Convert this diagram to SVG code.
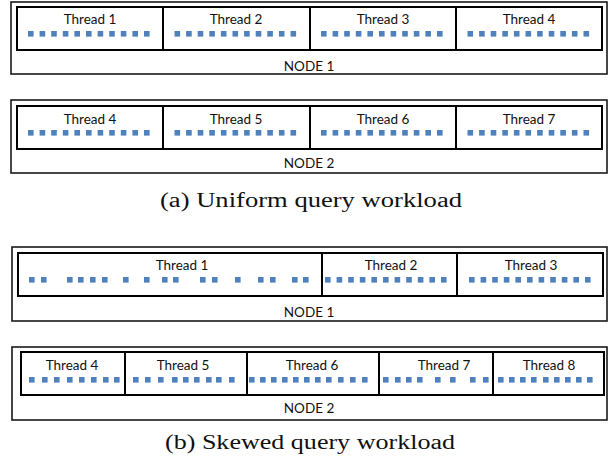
<svg xmlns="http://www.w3.org/2000/svg" width="608" height="459" viewBox="0 0 608 459">
<style>
.outer{fill:none;stroke:#1a1a1a;stroke-width:1.6}
.inner{fill:none;stroke:#000;stroke-width:2}
.div{stroke:#000;stroke-width:2}
.lbl{font-family:Lato,"Liberation Sans",sans-serif;font-size:13.5px;fill:#111;text-anchor:middle}
.cap{font-family:"Liberation Serif",serif;font-size:20px;fill:#111;text-anchor:middle}
.d{fill:#4f81bd}
</style>
<defs>
<rect id="q" width="5.6" height="5.6" class="d"/>
<g id="row11">
<use href="#q" x="0"/><use href="#q" x="11.6"/><use href="#q" x="23.2"/><use href="#q" x="34.8"/><use href="#q" x="46.4"/><use href="#q" x="58"/><use href="#q" x="69.6"/><use href="#q" x="81.2"/><use href="#q" x="92.8"/><use href="#q" x="104.4"/><use href="#q" x="116"/>
</g>
</defs>

<!-- (a) NODE 1 -->
<g id="a-node1">
<rect class="outer" x="11" y="2" width="596" height="72"/>
<rect class="inner" x="17" y="7" width="585" height="43"/>
<line class="div" x1="163" y1="7" x2="163" y2="50"/>
<line class="div" x1="310" y1="7" x2="310" y2="50"/>
<line class="div" x1="456" y1="7" x2="456" y2="50"/>
<text class="lbl" x="90" y="24">Thread 1</text>
<text class="lbl" x="236" y="24">Thread 2</text>
<text class="lbl" x="383" y="24">Thread 3</text>
<text class="lbl" x="529" y="24">Thread 4</text>
<use href="#row11" x="28" y="31"/>
<use href="#row11" x="174.5" y="31"/>
<use href="#row11" x="321" y="31"/>
<use href="#row11" x="467.5" y="31"/>
<text class="lbl" x="309" y="71">NODE 1</text>
</g>

<!-- (a) NODE 2 -->
<g id="a-node2">
<rect class="outer" x="11" y="100" width="596" height="73"/>
<rect class="inner" x="17" y="106" width="585" height="43"/>
<line class="div" x1="163" y1="106" x2="163" y2="149"/>
<line class="div" x1="310" y1="106" x2="310" y2="149"/>
<line class="div" x1="456" y1="106" x2="456" y2="149"/>
<text class="lbl" x="90" y="124">Thread 4</text>
<text class="lbl" x="236" y="124">Thread 5</text>
<text class="lbl" x="383" y="124">Thread 6</text>
<text class="lbl" x="529" y="124">Thread 7</text>
<use href="#row11" x="28" y="130"/>
<use href="#row11" x="174.5" y="130"/>
<use href="#row11" x="321" y="130"/>
<use href="#row11" x="467.5" y="130"/>
<text class="lbl" x="309" y="168">NODE 2</text>
</g>

<text class="cap" x="311" y="207" textLength="302" lengthAdjust="spacingAndGlyphs">(a) Uniform query workload</text>

<!-- (b) NODE 1 -->
<g id="b-node1">
<rect class="outer" x="12" y="247" width="595" height="74"/>
<rect class="inner" x="18" y="253" width="585" height="43"/>
<line class="div" x1="322" y1="253" x2="322" y2="296"/>
<line class="div" x1="457" y1="253" x2="457" y2="296"/>
<text class="lbl" x="182" y="270">Thread 1</text>
<text class="lbl" x="391" y="270">Thread 2</text>
<text class="lbl" x="531" y="270">Thread 3</text>
<g transform="translate(0,277)">
<use href="#q" x="29"/><use href="#q" x="41"/>
<use href="#q" x="67"/><use href="#q" x="78"/><use href="#q" x="90"/><use href="#q" x="102"/>
<use href="#q" x="123"/><use href="#q" x="144"/>
<use href="#q" x="162"/><use href="#q" x="173"/>
<use href="#q" x="200"/><use href="#q" x="212"/>
<use href="#q" x="235"/>
<use href="#q" x="258"/><use href="#q" x="270"/>
<use href="#q" x="292"/><use href="#q" x="303"/>
</g>
<use href="#row11" x="325" y="277"/>
<use href="#row11" x="469" y="277"/>
<text class="lbl" x="309" y="317">NODE 1</text>
</g>

<!-- (b) NODE 2 -->
<g id="b-node2">
<rect class="outer" x="12" y="347" width="595" height="73"/>
<rect class="inner" x="21" y="352" width="583" height="43"/>
<line class="div" x1="125" y1="352" x2="125" y2="395"/>
<line class="div" x1="247" y1="352" x2="247" y2="395"/>
<line class="div" x1="379" y1="352" x2="379" y2="395"/>
<line class="div" x1="493" y1="352" x2="493" y2="395"/>
<text class="lbl" x="72" y="370">Thread 4</text>
<text class="lbl" x="183" y="370">Thread 5</text>
<text class="lbl" x="312" y="370">Thread 6</text>
<text class="lbl" x="444" y="370">Thread 7</text>
<text class="lbl" x="549" y="370">Thread 8</text>
<g transform="translate(0,377)">
<use href="#q" x="29"/><use href="#q" x="42"/><use href="#q" x="54"/><use href="#q" x="67"/><use href="#q" x="79"/><use href="#q" x="91"/><use href="#q" x="103"/><use href="#q" x="114"/>
<use href="#q" x="133"/><use href="#q" x="145"/><use href="#q" x="158"/><use href="#q" x="172"/><use href="#q" x="183"/><use href="#q" x="194"/><use href="#q" x="206"/><use href="#q" x="216"/><use href="#q" x="229"/>
<use href="#q" x="249"/><use href="#q" x="260"/><use href="#q" x="271"/><use href="#q" x="282"/><use href="#q" x="293"/><use href="#q" x="304"/><use href="#q" x="315"/><use href="#q" x="326"/><use href="#q" x="338"/><use href="#q" x="350"/><use href="#q" x="362"/>
<use href="#q" x="383"/><use href="#q" x="395"/><use href="#q" x="406"/><use href="#q" x="417"/><use href="#q" x="435"/><use href="#q" x="450"/><use href="#q" x="470"/><use href="#q" x="483"/>
<use href="#q" x="498"/><use href="#q" x="509"/><use href="#q" x="520"/><use href="#q" x="531"/><use href="#q" x="543"/><use href="#q" x="554"/><use href="#q" x="565"/><use href="#q" x="576"/><use href="#q" x="587"/>
</g>
<text class="lbl" x="309" y="413">NODE 2</text>
</g>

<text class="cap" x="310" y="449" textLength="290" lengthAdjust="spacingAndGlyphs">(b) Skewed query workload</text>
</svg>
